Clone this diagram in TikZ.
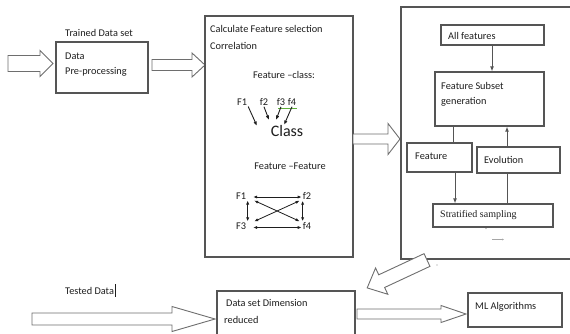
\documentclass[tikz,border=0pt]{standalone}
\usepackage{fontspec}
\setmainfont{Carlito}
\newfontfamily\serifface{Liberation Serif}
\usetikzlibrary{arrows.meta,calc}

\definecolor{linegrey}{HTML}{555555}
\definecolor{arrowgrey}{HTML}{6E6E6E}
\definecolor{inkgrey}{HTML}{1E1E1E}
\definecolor{spellgreen}{HTML}{5FAE3C}

% hollow block arrow along x: tail x, tip x, axis y, half shaft, half head, head length
\newcommand{\hollowarrow}[6]{%
  \draw[blockarrow] (#1,#3-#4) -- (#2-#6,#3-#4) -- (#2-#6,#3-#5) -- (#2,#3)
    -- (#2-#6,#3+#5) -- (#2-#6,#3+#4) -- (#1,#3+#4) -- cycle;}

\begin{document}
\begin{tikzpicture}[x=1pt,y=-1pt,
  every node/.style={text=inkgrey, font=\fontsize{10.3}{12}\selectfont},
  box/.style={draw=linegrey, line width=1.2pt, inner sep=0pt, fill=white},
  txt/.style={anchor=west, inner sep=0pt},
  fnode/.style={inner sep=1pt},
  blockarrow/.style={draw=arrowgrey, line width=0.9pt, fill=white, line join=miter},
  flow/.style={draw=linegrey, line width=1pt, -{Latex[length=5pt,width=4pt]}},
  plain/.style={draw=linegrey, line width=1pt},
  fc/.style={draw=inkgrey, line width=0.9pt, -{Latex[length=4.5pt,width=3.5pt]}},
  ff/.style={draw=inkgrey, line width=0.8pt, {Latex[length=4pt,width=3.2pt]}-{Latex[length=4pt,width=3.2pt]}}]

\useasboundingbox (0,0) rectangle (570,333);

% ---------- training branch ----------
\hollowarrow{8}{53}{63.5}{8}{13}{13}
\node[txt] (trainlbl) at (65,33) {Trained Data set};
\node[box, minimum width=92, minimum height=51] (prep) at (102,67.5) {};
\node[txt] at (65,56) {Data};
\node[txt] at (65,72) {Pre-processing};

\hollowarrow{152}{205}{65}{5.5}{12}{13}

% ---------- correlation box ----------
\node[box, minimum width=148, minimum height=241] (calc) at (279,136.5) {};
\node[txt] at (210,29) {Calculate Feature selection};
\node[txt] at (210,46) {Correlation};

\node (fclass) at (284,75) {Feature {\textendash}class:};
\node[fnode] (c1) at (242,102) {F1};
\node[fnode] (c2) at (264,102) {f2};
\node[fnode] (c3) at (281,102) {f3};
\node[fnode] (c4) at (292,102) {f4};
\draw[spellgreen, line width=0.7pt] (278,108.5) -- (297,108.5);
\node[font=\fontsize{16}{18}\selectfont] (class) at (287,131) {Class};
\coordinate (e1) at (257,126);
\coordinate (e2) at (269,120);
\coordinate (e3) at (276,120);
\coordinate (e4) at (284,125);
\draw[fc] (c1.south east) -- (e1);
\draw[fc] (c2.south) -- (e2);
\draw[fc] (c3.south) -- (e3);
\draw[fc] (c4.south) -- (e4);

\node (ffeat) at (290,166) {Feature {\textendash}Feature};
\node[fnode] (F1) at (241,196) {F1};
\node[fnode] (F2) at (307,196) {f2};
\node[fnode] (F3) at (241,226) {F3};
\node[fnode] (F4) at (307,226) {f4};
\draw[ff] ([xshift=6pt,yshift=-1pt]F1.east) -- ([yshift=-1pt]F2.west);
\draw[ff] ([xshift=6pt,yshift=-1.5pt]F3.east) -- ([yshift=-1.5pt]F4.west);
\draw[ff] ([xshift=0.5pt]F1.south east) -- ([xshift=0.5pt]F3.north east);
\draw[ff] ([xshift=1pt]F2.south west) -- ([xshift=1pt]F4.north west);
\draw[ff] ([xshift=7pt]F1.south east) -- ([xshift=-2pt]F4.north west);
\draw[ff] ([xshift=7pt]F3.north east) -- ([xshift=-2pt]F2.south west);

\hollowarrow{353}{400}{139}{5}{15.5}{12}

% ---------- subset search frame ----------
\draw[linegrey, line width=1.2pt] (570,7) -- (401,7) -- (401,259) -- (570,259);

\node[box, minimum width=103, minimum height=20] (allf) at (492.5,35) {};
\node[txt] at (448,36) {All features};
\node[box, minimum width=109, minimum height=54] (fsg) at (489.5,99) {};
\node[txt] at (441,86) {Feature Subset};
\node[txt] at (441,102) {generation};
\node[box, minimum width=65, minimum height=29] (feat) at (439.5,157.5) {};
\node[txt] at (415,156) {Feature};
\node[box, minimum width=83, minimum height=26] (evol) at (518.5,160) {};
\node[txt] at (484,160) {Evolution};
\node[box, minimum width=120, minimum height=23] (strat) at (493,215.5) {};
\node[txt, font=\serifface\fontsize{10}{12}\selectfont] at (440,215) {Stratified sampling};

\draw[flow] (allf.south -| 492,0) -- (fsg.north -| 492,0);
\draw[plain] (fsg.south -| 453,0) -- (feat.north -| 453,0);
\draw[flow] (feat.south -| 455,0) -- (strat.north -| 455,0);
\draw[plain] (strat.north -| 507,0) -- (evol.south -| 507,0);
\draw[flow] (evol.north -| 507,0) -- (fsg.south -| 507,0);

\draw[black!35, line width=0.8pt, -{Latex[length=2pt,width=2pt]}] (492,239.5) -- (504,239.5);
\fill[black!45] (486,228.5) circle (0.7);

% ---------- reduced set ----------
\begin{scope}[shift={(427,260)}, rotate=205]
  \hollowarrow{0}{66}{0}{7}{14.5}{16}
\end{scope}
\fill[black!45] (437,265) circle (0.7);

\node[txt] (testlbl) at (65,291) {Tested Data};
\draw[inkgrey, line width=0.7pt] ([xshift=1pt]testlbl.east |- 0,284) -- ([xshift=1pt]testlbl.east |- 0,297);
\hollowarrow{32}{215}{319}{6}{12.5}{43}

\node[box, minimum width=138, minimum height=49] (dsdr) at (286,315.5) {};
\node[txt] at (226,303) {Data set Dimension};
\node[txt] at (224,320) {reduced};

\hollowarrow{357}{466}{314}{5}{8.5}{25}

\node[box, minimum width=94, minimum height=34] (ml) at (515,310) {};
\node[txt] at (475,307) {ML Algorithms};
\end{tikzpicture}
\end{document}
